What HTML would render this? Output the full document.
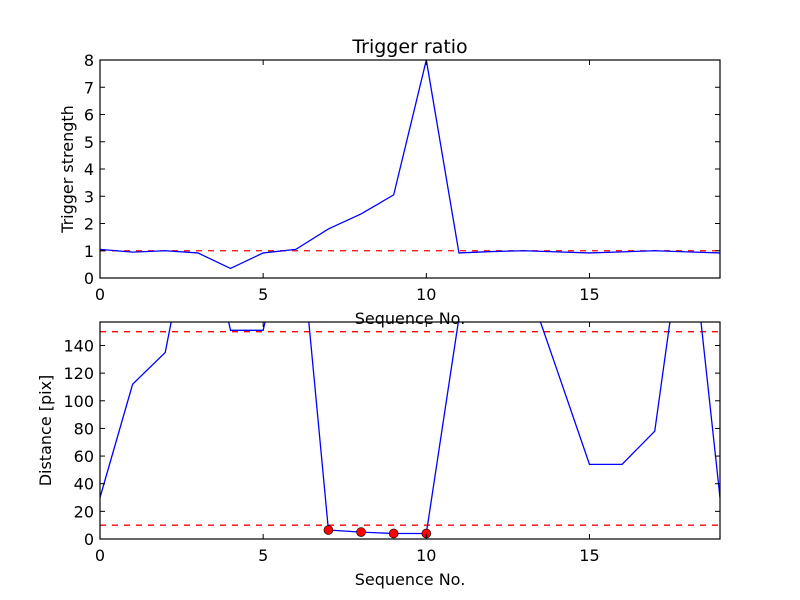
<!DOCTYPE html>
<html><head><meta charset="utf-8"><style>
body{margin:0;background:#fff;}
svg{display:block;font-family:"DejaVu Sans","Liberation Sans",sans-serif;}
</style></head><body>
<svg id="fig" width="800" height="600" xmlns="http://www.w3.org/2000/svg"></svg>
<script>
const seq = [0,1,2,3,4,5,6,7,8,9,10,11,12,13,14,15,16,17,18,19];
const ratio = [1.05,0.95,1.0,0.92,0.35,0.92,1.05,1.8,2.35,3.05,8.0,0.92,0.97,1.0,0.96,0.92,0.96,1.0,0.96,0.92];
const dist = [30,112,135,257,151,151,257,6.5,5,4,4,160,250,191,122.7,54,54,78,248,30];
const markX = [7,8,9,10];
const markY = [6.5,5,4,4];
const xTicks = [0,5,10,15];
const topTicks = [0,1,2,3,4,5,6,7,8];
const botTicks = [0,20,40,60,80,100,120,140];
const topRef = [1];
const botRef = [10,150];

const NS='http://www.w3.org/2000/svg';
const svg=document.getElementById('fig');
function mk(tag,attrs,parent){const e=document.createElementNS(NS,tag);for(const k in attrs)e.setAttribute(k,attrs[k]);(parent||svg).appendChild(e);return e;}
function txt(s,attrs,parent){const t=mk('text',attrs,parent);t.textContent=s;return t;}

function panel(cfg){
  const {x0,x1,y0,y1,ymin,ymax,name}=cfg;
  const sx=v=>x0+(v-0)/(19-0)*(x1-x0);
  const sy=v=>y1-(v-ymin)/(ymax-ymin)*(y1-y0);
  const g=mk('g',{});
  
  
  const cid='clip-'+name;
  const cp=mk('clipPath',{id:cid},g);mk('rect',{x:x0,y:y0,width:x1-x0,height:y1-y0},cp);
  // ref lines
  cfg.refs.forEach(r=>{
    const l=mk('line',{x1:x0,x2:x1,y1:sy(r),y2:sy(r),stroke:'#ff0000','stroke-width':1.3,'stroke-dasharray':'6,6'},g);
    
    
  });
  const pts=seq.map((s,i)=>sx(s)+','+sy(cfg.ys[i])).join(' ');
  const pl=mk('polyline',{points:pts,fill:'none',stroke:'#0000ff','stroke-width':1.3,'clip-path':'url(#'+cid+')'},g);
  
  
  if(cfg.marks){cfg.marks[0].forEach((mx,i)=>{
    const c=mk('circle',{cx:sx(mx),cy:sy(cfg.marks[1][i]),r:4.5,fill:'#ff0000',stroke:'#000','stroke-width':0.6},g);
    
    
  });}
  mk('rect',{x:x0,y:y0,width:x1-x0,height:y1-y0,fill:'none',stroke:'#000','stroke-width':1.2},g);
  xTicks.forEach(t=>{
    const X=sx(t);
    mk('line',{x1:X,x2:X,y1:y1,y2:y1-5,stroke:'#000'},g);
    mk('line',{x1:X,x2:X,y1:y0,y2:y0+5,stroke:'#000'},g);
    const l=txt(String(t),{x:X,y:y1+22,'font-size':16,'text-anchor':'middle'},g);
    
    
  });
  cfg.yt.forEach(t=>{
    const Y=sy(t);
    mk('line',{x1:x0,x2:x0+5,y1:Y,y2:Y,stroke:'#000'},g);
    mk('line',{x1:x1,x2:x1-5,y1:Y,y2:Y,stroke:'#000'},g);
    const l=txt(String(t),{x:x0-6,y:Y+6,'font-size':16,'text-anchor':'end'},g);
    
    
  });
  const xl=txt('Sequence No.',{x:(x0+x1)/2,y:y1+46,'font-size':16,'text-anchor':'middle'},g);
  
  
  const yc=(y0+y1)/2;
  const yl=txt(cfg.ylabel,{x:cfg.ylx,y:yc,'font-size':16,'text-anchor':'middle',transform:'rotate(-90 '+cfg.ylx+' '+yc+')'},g);
  
  
}
panel({name:'trigger',x0:100,x1:720,y0:60,y1:278,ymin:0,ymax:8,ys:ratio,refs:topRef,yt:topTicks,ylabel:'Trigger strength',ylx:73});
panel({name:'distance',x0:100,x1:720,y0:322,y1:539,ymin:0,ymax:157,ys:dist,refs:botRef,yt:botTicks,ylabel:'Distance [pix]',ylx:51,marks:[markX,markY]});
const t=txt('Trigger ratio',{x:410,y:53,'font-size':19,'text-anchor':'middle'});


</script>
</body></html>
